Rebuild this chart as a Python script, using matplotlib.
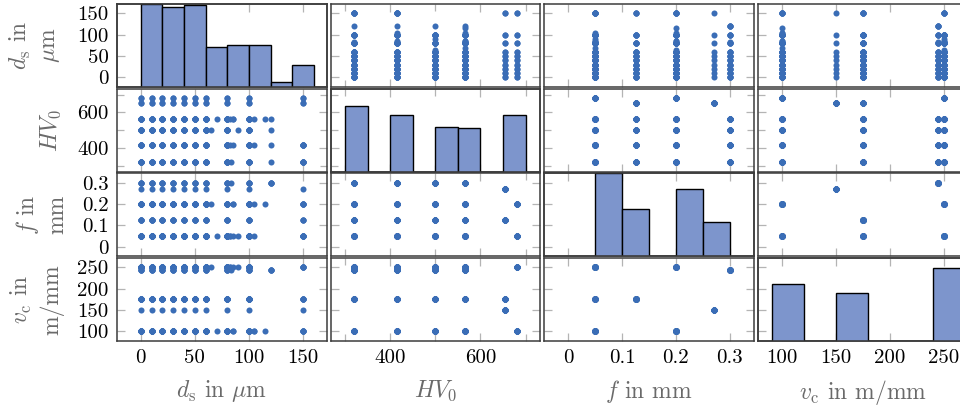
import numpy as np
import matplotlib.pyplot as plt

plt.rcParams["font.family"] = ["cmr10", "DejaVu Serif"]
plt.rcParams["mathtext.fontset"] = "cm"
plt.rcParams["axes.formatter.use_mathtext"] = True
plt.rcParams["axes.unicode_minus"] = False

# Test conditions: hardness, cutting speed, feed
cond_hv0 = [320] * 7 + [415] * 7 + [500] * 7 + [565] * 7 + [655, 655, 680, 680]
cond_vc = [100, 100, 175, 175, 250, 250, 245] * 4 + [150, 175, 100, 250]
cond_f = [0.05, 0.2, 0.05, 0.125, 0.05, 0.2, 0.3] * 4 + [0.27, 0.125, 0.2, 0.05]

# depths measured on every condition, plus the extra ones per condition
base_depths = [0, 10, 20, 30, 40, 50, 60, 80, 100]
extra_depths = [
    [150], [150], [150], [150], [150], [150], [83, 120],
    [105, 150], [85, 150], [150], [150], [82, 150], [150], [120],
    [], [], [], [], [90], [65], [120],
    [70, 85], [105, 115], [], [], [82], [85], [120],
    [150], [150], [150], [150],
]

# diagonal histograms (bin edges and bar heights)
ds_bins = [0, 20, 40, 60, 80, 100, 120, 140, 160]
ds_counts = [64, 62, 63, 31, 32, 32, 4, 17]
hv0_bins = [300, 350, 400, 450, 500, 550, 600, 650, 700]
hv0_counts = [47, 0, 40, 0, 32, 31, 0, 40]
f_bins = [0.05, 0.10, 0.15, 0.20, 0.25, 0.30]
f_counts = [68, 39, 0, 55, 28]
vc_bins = [90, 120, 150, 180, 210, 240, 270]
vc_counts = [61, 0, 51, 0, 0, 78]

labels = [r"$d_\mathrm{s}$ in $\mu$m", r"$HV_0$", r"$f$ in mm",
          r"$v_\mathrm{c}$ in m/mm"]
ylabels = [r"$d_\mathrm{s}$ in" + "\n" + r"$\mu$m", r"$HV_0$",
           r"$f$ in" + "\nmm", r"$v_\mathrm{c}$ in" + "\nm/mm"]

# tick positions and labels per variable
major = [[0, 50, 100, 150], [400, 600], [0, 0.1, 0.2, 0.3], [100, 150, 200, 250]]
major_labels = [["0", "50", "100", "150"], ["400", "600"],
                ["0", "0.1", "0.2", "0.3"], ["100", "150", "200", "250"]]
minor = [[], [300, 500, 700], [], []]

# flat table
ds, hv0, f, vc = [], [], [], []
for k in range(len(cond_hv0)):
    for d in base_depths + extra_depths[k]:
        ds.append(d)
        hv0.append(cond_hv0[k])
        f.append(cond_f[k])
        vc.append(cond_vc[k])
data = [np.array(ds), np.array(hv0), np.array(f), np.array(vc)]
hists = [(ds_bins, ds_counts, 64), (hv0_bins, hv0_counts, 59),
         (f_bins, f_counts, 68), (vc_bins, vc_counts, 88)]

lims = [(-22, 172), (268, 733), (-0.045, 0.345), (77, 272)]
ylab_x = [-0.39, -0.314, -0.362, -0.381]

dot_color = "#3a6db6"
bar_color = "#7d95cc"

fig, axes = plt.subplots(4, 4, figsize=(9.6, 4.09), dpi=100)
fig.subplots_adjust(left=117 / 960, right=967.5 / 960, top=1 - 4 / 409,
                    bottom=1 - 341 / 409, wspace=0.0167, hspace=0.0217)

for i in range(4):
    for j in range(4):
        ax = axes[i, j]
        ax.set_xlim(lims[j])
        ax.set_ylim(lims[i])
        ax.set_xticks(major[j], labels=major_labels[j])
        ax.set_xticks(minor[j], minor=True)
        ax.set_yticks(major[i], labels=major_labels[i])
        ax.set_yticks(minor[i], minor=True)
        ax.tick_params(which="both", direction="in", top=True, right=True,
                       color="#b4b4b4", width=0.9, labelsize=15, pad=6,
                       labelbottom=(i == 3), labelleft=(j == 0))
        ax.tick_params(which="major", length=6)
        ax.tick_params(which="minor", length=5)
        for sp in ax.spines.values():
            sp.set_color("#3c3c3c")
            sp.set_linewidth(1.1)
        if i == j:
            edges, counts, top = hists[i]
            tw = ax.twinx()
            tw.bar(edges[:-1], counts, width=np.diff(edges), align="edge",
                   color=bar_color, edgecolor="black", linewidth=1.0)
            tw.set_ylim(0, top)
            tw.set_yticks([])
            for sp in tw.spines.values():
                sp.set_color("#3c3c3c")
                sp.set_linewidth(1.1)
        else:
            ax.scatter(data[j], data[i], s=19, color=dot_color, linewidths=0,
                       zorder=3)
        if i == 3:
            ax.set_xlabel(labels[j], fontsize=17, color="#6a6a6a", labelpad=8)
        if j == 0:
            ax.set_ylabel(ylabels[i], fontsize=17, color="#6a6a6a",
                          va="center", linespacing=1.3)
            ax.yaxis.set_label_coords(ylab_x[i], 0.5)

fig.savefig("out.png", dpi=100)
